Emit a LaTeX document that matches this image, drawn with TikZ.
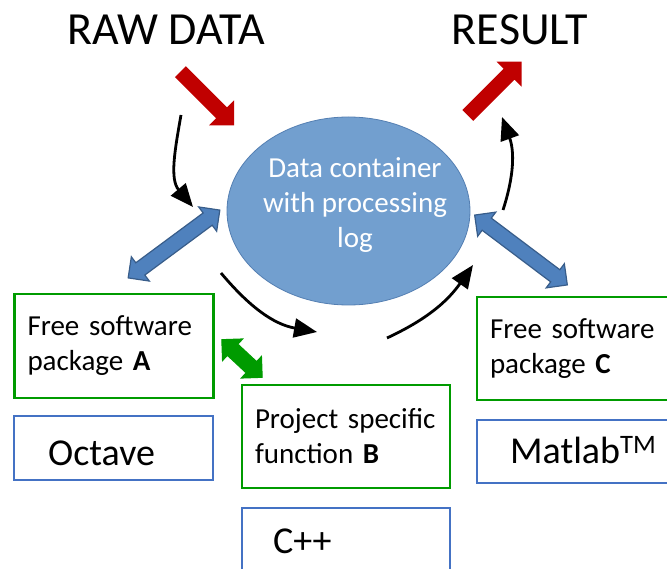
\documentclass[tikz,border=0pt]{standalone}
\usepackage{fontspec}
\setmainfont{Carlito}
\setsansfont{Carlito}
\usetikzlibrary{shapes, shapes.geometric, shapes.arrows, arrows.meta, positioning}
\definecolor{cRed}{RGB}{192, 0, 0}
\definecolor{cLinkFill}{RGB}{79, 129, 189}
\definecolor{cLinkDraw}{RGB}{56, 93, 138}
\definecolor{cLogFill}{RGB}{114, 159, 207}
\definecolor{cLogDraw}{RGB}{84, 127, 178}
\definecolor{cPkg}{RGB}{0, 155, 0}
\definecolor{cTool}{RGB}{68, 114, 196}
\newcommand{\pxfont}[2]{\sffamily\fontsize{#1pt}{#2pt}\selectfont}
\tikzset{
    font=\sffamily,
    title/.style={font=\pxfont{46}{55}, anchor=base, inner sep=0pt},
    flowArrow/.style={line width=2.8pt, -{Triangle[length=23pt, width=19pt]}},
    ioArrow/.style={
        single arrow, fill=cRed, draw=none, inner xsep=0pt, inner ysep=7.5pt,
        single arrow head extend=10pt, minimum height=76pt
    },
    linkArrow/.style={
        double arrow, fill=cLinkFill, draw=cLinkDraw, line width=1.2pt,
        inner xsep=0pt, inner ysep=7pt, double arrow head extend=7.5pt
    },
    logBox/.style={
        ellipse, fill=cLogFill, draw=cLogDraw, line width=0.8pt,
        minimum width=243pt, minimum height=188pt
    },
    pkgBox/.style={
        rectangle, draw=cPkg, line width=2.8pt,
        align=left, font=\pxfont{29}{35},
        inner xsep=13pt, inner ysep=0pt
    },
    toolBox/.style={rectangle, draw=cTool, line width=2.8pt},
    toolText/.style={font=\pxfont{38}{46}, anchor=base west, inner sep=0pt}
}

\begin{document}
\begin{tikzpicture}[x=1pt, y=-1pt]
    \clip (0,0) rectangle (667,569);

    % titles
    \node [title] (rawTitle) at (166,45) {RAW DATA};
    \node [title] (resTitle) at (520,45) {RESULT};

    % data container
    \node [logBox] (logCont) at (348.5,211) {};
    \node [font=\pxfont{29}{35}, text=white, align=center] (logText) at (355,205)
        {Data container\\with processing\\log};

    % in and out
    \node [ioArrow, rotate=-45] (inArrow) at (204.5,95.8) {};
    \node [ioArrow, rotate=45] (outArrow) at (492,91.3) {};

    % packages
    \node [pkgBox, text width=173pt, minimum height=104pt] (pkgA) at (114,346)
        {Free software\\package \textbf{A}};
    \node [pkgBox, text width=182pt, minimum height=103pt] (pkgB) at (346,436.5)
        {Project specific\\function \textbf{B}};
    \node [pkgBox, text width=184pt, minimum height=103pt] (pkgC) at (582,348.5)
        {Free software\\package \textbf{C}};

    % tools
    \node [toolBox, minimum width=199pt, minimum height=64pt] (octaveBox) at (113.5,448) {};
    \node [toolText] (octaveText) at (48,465) {Octave};
    \node [toolBox, minimum width=208pt, minimum height=84pt] (cppBox) at (346,550) {};
    \node [toolText] (cppText) at (273,553) {C++};
    \node [toolBox, minimum width=210pt, minimum height=63pt] (matlabBox) at (582,451.5) {};
    \node [toolText] (matlabText) at (510,463) {Matlab\textsuperscript{TM}};

    % links to the container
    \node [linkArrow, minimum height=114pt, rotate=36.5] (linkA) at (174,244) {};
    \node [linkArrow, minimum height=116pt, rotate=-37] (linkC) at (521,250) {};
    \node [linkArrow, fill=cPkg, draw=cPkg, minimum height=55pt, inner ysep=7pt,
        double arrow head extend=7pt, rotate=-43] (linkB) at (242,358.5) {};

    % processing flow
    \coordinate (rawStart) at (181,115);
    \coordinate (rawEnd) at (193,207);
    \coordinate (stepStart) at (221,273);
    \coordinate (stepEnd) at (317,332);
    \coordinate (backStart) at (387,338);
    \coordinate (backEnd) at (473,265);
    \coordinate (resStart) at (503,210);
    \coordinate (resEnd) at (502,117);
    \draw [flowArrow] (rawStart) to[out=-100, in=130] (rawEnd);
    \draw [flowArrow] (stepStart) to[out=-50, in=170] (stepEnd);
    \draw [flowArrow] (backStart) to[out=25, in=-125] (backEnd);
    \draw [flowArrow] (resStart) to[out=72, in=-70] (resEnd);
\end{tikzpicture}
\end{document}
